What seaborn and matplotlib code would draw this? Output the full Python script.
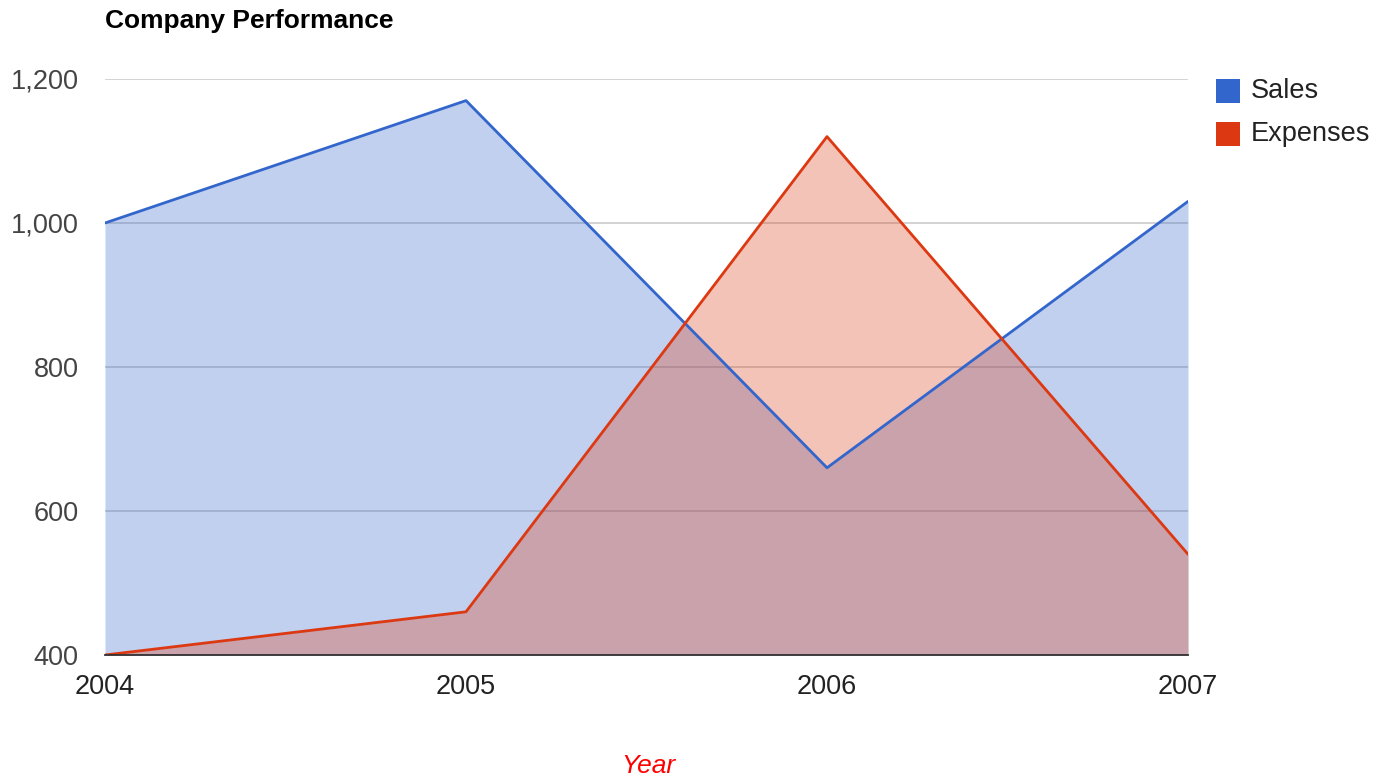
import matplotlib
matplotlib.use("Agg")
import matplotlib.pyplot as plt
from matplotlib.patches import Rectangle
import pandas as pd
import seaborn as sns

years = [2004, 2005, 2006, 2007]
sales = [1000, 1170, 660, 1030]
expenses = [400, 460, 1120, 540]
y_ticks = [400, 600, 800, 1000, 1200]
series_names = ["Sales", "Expenses"]
series_colors = ["#3366CC", "#DC3912"]

df = pd.DataFrame({"Year": years, "Sales": sales, "Expenses": expenses})
long_df = df.melt(id_vars="Year", var_name="Series", value_name="Value")

sns.set_theme(style="white")
plt.rcParams["font.family"] = ["Liberation Sans", "DejaVu Sans"]

W, H = 1373, 778
fig = plt.figure(figsize=(W / 100, H / 100), dpi=100)
ax = fig.add_axes([105 / W, 1 - 655 / H, (1188 - 105) / W, (655 - 79) / H])

y_min, y_max = y_ticks[0], y_ticks[-1]

# translucent areas down to the axis baseline
for name, color in zip(series_names, series_colors):
    ax.fill_between(df["Year"], df[name], y_min, color=color, alpha=0.3, linewidth=0, zorder=2)

sns.lineplot(data=long_df, x="Year", y="Value", hue="Series", hue_order=series_names,
             palette=series_colors, linewidth=2.0, legend=False, ax=ax, zorder=3)

ax.set_xlim(years[0], years[-1])
ax.set_ylim(y_min, y_max)
ax.set_xticks(years)
ax.set_xticklabels([str(y) for y in years])
ax.set_yticks(y_ticks)
ax.set_yticklabels([f"{v:,}" for v in y_ticks])
ax.tick_params(axis="both", length=0, labelsize=19.5, colors="#222222")
ax.tick_params(axis="x", pad=14)
ax.tick_params(axis="y", pad=19)
for lbl in ax.get_yticklabels():
    lbl.set_color("#444444")

ax.grid(axis="y", color="#CCCCCC", linewidth=1.2, zorder=1)
ax.grid(axis="x", visible=False)
for side in ["top", "right", "left"]:
    ax.spines[side].set_visible(False)
ax.spines["bottom"].set_color("#333333")
ax.spines["bottom"].set_linewidth(1.3)
ax.spines["bottom"].set_zorder(4)

ax.set_xlabel("")
ax.set_ylabel("")

# axis title, centred under the plot
fig.text(648 / W, 1 - 766 / H, "Year", fontsize=19, color="#FF0000", style="italic",
         ha="center", va="center")

fig.text(105 / W, 1 - 21 / H, "Company Performance", fontsize=19, fontweight="bold",
         color="#000000", ha="left", va="center")

# legend on the right
for i, (name, color) in enumerate(zip(series_names, series_colors)):
    y_center = 91 + i * 43
    fig.patches.append(Rectangle((1216 / W, 1 - (y_center + 12) / H), 24 / W, 24 / H,
                                 transform=fig.transFigure, facecolor=color, edgecolor="none"))
    fig.text(1251 / W, 1 - y_center / H, name, fontsize=19.5, color="#222222",
             ha="left", va="center")

fig.savefig("out.png", dpi=100)
